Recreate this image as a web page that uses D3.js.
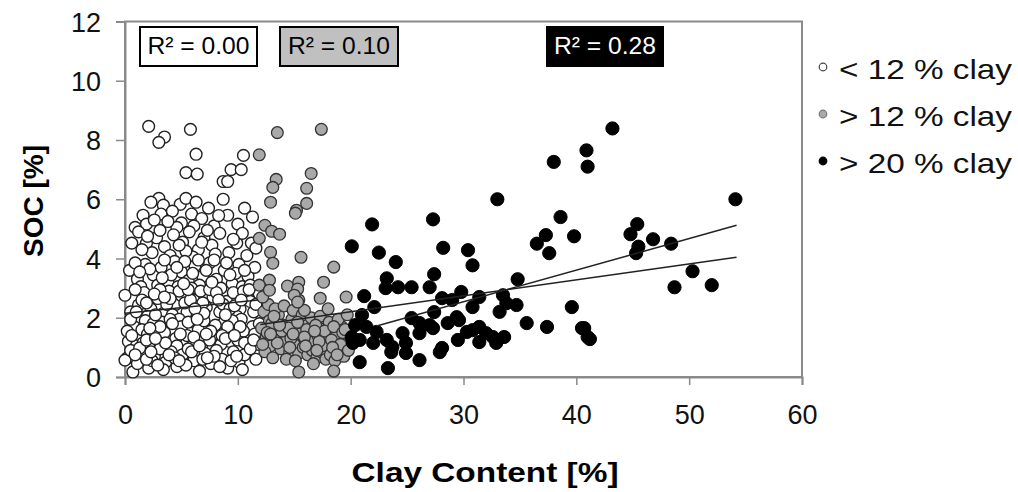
<!DOCTYPE html>
<html><head><meta charset="utf-8">
<script src="https://cdn.jsdelivr.net/npm/d3@7"></script>
<style>body{margin:0;background:#fff}svg{display:block}text{font-family:"Liberation Sans",Arial,sans-serif}</style>
</head><body>
<svg id="c" width="1018" height="492"></svg>
<script>
// ---- data ----
const xTicks = [0,10,20,30,40,50,60];
const yTicks = [0,2,4,6,8,10,12];
const seriesNames = ["< 12 % clay", "> 12 % clay", "> 20 % clay"];
const r2Labels = ["R\u00B2 = 0.00", "R\u00B2 = 0.10", "R\u00B2 = 0.28"];
const lowClay = [
[2.1,8.46],[3.5,8.1],[3.0,7.92],[5.8,8.36],[6.3,7.52],[10.5,7.48],[9.4,7.0],[10.3,7.0],[5.4,6.9],[6.4,6.85],[8.7,6.6],[9.1,6.6],[3.0,6.03],[3.4,5.8],[4.9,5.83],[5.4,6.03],[6.3,5.9],[8.7,6.0],
[1.6,5.46],[1.9,5.16],[3.2,5.5],[9.1,5.46],[10.0,5.16],[2.6,5.3],[4.2,5.6],[5.0,5.2],[5.9,5.5],[6.8,5.35],[7.4,5.7],[4.6,5.05],[7.9,5.1],[2.3,5.9],[6.1,5.1],[3.8,5.25],[8.3,5.45],[10.6,5.7],[0.9,5.05],[11.3,5.4],
[0.6,4.52],[1.9,4.52],[11.2,4.52],[9.9,4.52],[1.2,4.9],[2.8,4.7],[3.5,4.4],[4.3,4.8],[5.1,4.55],[5.7,4.9],[6.5,4.3],[7.0,4.7],[7.7,4.45],[8.4,4.85],[9.2,4.2],[10.4,4.85],[2.4,4.2],[4.0,4.1],[6.0,4.05],[8.0,4.15],[3.1,4.95],[1.5,4.3],[5.4,4.25],[7.3,4.95],[10.8,4.1],[9.6,4.65],[4.8,4.45],[6.8,4.55],[2.0,4.75],[11.6,4.35],
[0.4,3.6],[1.1,3.3],[1.8,3.8],[2.5,3.45],[3.2,3.7],[3.8,3.2],[4.4,3.9],[5.0,3.55],[5.6,3.25],[6.2,3.75],[6.9,3.4],[7.5,3.85],[8.1,3.3],[8.8,3.6],[9.5,3.15],[10.1,3.8],[10.9,3.4],[11.5,3.7],[1.4,3.05],[2.9,3.1],[4.7,3.05],[6.6,3.1],[8.5,3.0],[10.4,3.05],[3.5,3.95],[5.3,3.9],[7.2,3.6],[9.0,3.85],[2.2,3.65],[4.1,3.45],[6.0,3.5],[7.9,3.95],[9.8,3.5],[11.1,3.1],[0.9,3.85],[5.9,3.0],
[0,2.76],[1.2,2.43],[0.5,2.2],[1.7,2.85],[2.3,2.3],[2.9,2.65],[3.4,2.15],[3.9,2.9],[4.5,2.45],[5.0,2.75],[5.5,2.2],[6.1,2.6],[6.7,2.9],[7.2,2.35],[7.8,2.7],[8.4,2.2],[9.0,2.55],[9.6,2.85],[10.2,2.3],[10.8,2.65],[11.4,2.2],[11.9,2.8],[0.9,2.95],[2.0,2.05],[3.1,2.95],[4.2,2.1],[5.3,2.5],[6.4,2.05],[7.5,2.95],[8.7,2.45],[9.9,2.05],[11.1,2.55],[1.5,2.6],[2.6,2.8],[3.7,2.45],[4.8,2.9],[5.8,2.6],[6.9,2.5],[8.1,2.85],[9.3,2.3],[10.5,2.9],[11.6,2.45],
[0.3,1.2],[0.8,1.7],[1.3,1.35],[1.8,1.9],[2.3,1.1],[2.8,1.55],[3.3,1.85],[3.8,1.25],[4.3,1.6],[4.8,1.95],[5.3,1.15],[5.8,1.5],[6.3,1.8],[6.8,1.3],[7.3,1.65],[7.8,1.05],[8.3,1.45],[8.8,1.85],[9.3,1.2],[9.8,1.6],[10.3,1.95],[10.8,1.35],[11.3,1.7],[11.8,1.1],[0.5,1.95],[1.0,1.05],[1.5,1.6],[2.0,1.45],[2.5,1.8],[3.0,1.2],[3.5,1.5],[4.0,1.95],[4.5,1.3],[5.0,1.7],[5.5,1.4],[6.0,1.05],[6.5,1.6],[7.0,1.9],[7.5,1.25],[8.0,1.75],[8.5,1.1],[9.0,1.5],[9.5,1.9],[10.0,1.25],[10.5,1.55],[11.0,1.05],[11.5,1.45],[0.2,1.55],[1.6,1.15],[3.1,1.7],[4.6,1.05],[6.1,1.35],[7.6,1.55],[9.1,1.7],[10.6,1.15],[2.2,1.65],[5.6,1.85],[8.6,1.4],
[0.2,0.64],[0.7,0.17],[6.6,0.2],[0,0.57],[0.5,0.9],[1.1,0.45],[1.6,0.8],[2.1,0.3],[2.6,0.7],[3.1,0.95],[3.6,0.5],[4.1,0.85],[4.6,0.35],[5.1,0.75],[5.6,0.95],[6.1,0.55],[7.1,0.8],[7.6,0.45],[8.1,0.9],[8.6,0.6],[9.1,0.3],[9.6,0.85],[10.1,0.5],[10.6,0.75],[11.1,0.95],[11.6,0.6],[1.3,0.98],[2.4,0.55],[3.4,0.25],[4.4,0.65],[5.4,0.4],[6.9,0.6],[8.4,0.35],[9.4,0.55],[1.9,0.6],[3.9,0.75],[5.9,0.85],[7.9,0.7],[2.9,0.4],[10.4,0.25],
[1.0,2.2],[2.7,2.1],[4.0,2.65],[5.6,2.95],[7.0,2.15],[8.3,2.6],[9.7,2.4],[11.0,2.95],[1.9,2.5],[3.5,2.7],[6.2,2.3],[8.9,2.1],[10.3,2.6],[0.6,1.4],[1.9,1.25],[3.6,1.15],[4.9,1.45],[6.6,1.05],[7.2,1.45],[8.9,1.3],[10.2,1.7],[11.4,1.25],[2.7,1.3],[4.2,1.8],[6.4,1.95],[9.7,1.4],[11.9,1.8],[0.9,0.75],[2.3,0.85],[4.8,0.55],[7.3,0.65],[9.9,0.7],[3.3,3.35],[5.2,3.15],[7.7,3.2],[9.3,3.45],[1.3,3.55],[10.6,3.6],[4.6,3.7],[6.5,3.95]
];
const midClay = [
[12.3,2.2],[12.8,1.9],[13.2,1.6],[13.6,2.1],[14.0,1.75],[14.4,1.4],[14.8,1.95],[15.2,1.6],[15.6,1.25],[16.0,1.8],[16.4,1.45],[16.8,1.1],[17.2,1.65],[17.6,1.3],[18.0,0.95],[18.4,1.5],[18.8,1.15],[19.2,1.7],[19.6,1.35],[12.5,1.3],[12.9,1.05],[13.4,1.35],[13.8,0.95],[14.2,1.2],[14.6,0.85],[15.0,1.1],[15.4,0.8],[15.8,1.0],[16.2,0.75],[16.6,0.9],[17.0,0.65],[17.4,0.85],[17.8,0.6],[18.2,0.75],[18.6,0.55],[19.0,0.85],[19.4,0.7],[12.1,1.65],[12.7,2.45],[13.3,2.3],[14.1,2.4],[14.9,2.25],[15.7,2.1],[16.5,2.0],[17.3,2.05],[18.1,1.85],[18.9,1.95],[19.7,2.1],[13.0,1.8],[13.9,1.55],[14.7,1.3],[15.5,1.45],[16.3,1.2],[17.1,1.4],[17.9,1.2],[18.7,1.35],[19.5,1.05],[12.4,0.85],[13.1,0.65],[14.5,1.65],[15.3,1.85],[16.1,1.6],[16.9,1.75],[17.7,1.55],[18.5,1.7],[19.3,1.5],[12.6,1.5],[13.5,1.15],[14.3,0.6],[15.1,0.55],[15.9,1.35],[16.7,0.45],[17.5,1.05],[18.3,1.25],[19.1,1.1],[19.8,0.9],
[12.2,1.1],[13.7,1.75],[14.9,1.45],[16.0,1.05],[17.2,1.2],[18.4,1.0],[19.5,1.6],[13.2,2.05],[15.9,2.25],[18.0,2.3],[12.9,1.45],[14.6,1.0],[17.0,0.9],[18.8,0.75],[16.8,1.55],
[13.5,8.25],[17.4,8.36],[11.9,7.5],[13.4,6.67],[13.1,6.4],[16.5,6.87],[16.1,6.37],[12.9,5.9],[16.1,5.86],[15.2,5.63],[15.1,5.53],[12.4,5.12],[13.0,4.92],[13.7,4.82],[11.9,4.68],[12.9,4.21],[13.1,3.84],[15.6,4.04],[18.5,3.71],[12.8,3.27],[11.9,3.1],[14.4,3.07],[15.4,3.2],[15.3,2.97],[15.4,2.6],[15.0,2.76],[17.6,3.2],[17.3,2.66],[19.6,2.7],[12.2,2.7],[12.8,2.93],[15.3,2.53],[15.4,0.17],[18.5,0.2]
];
const highClay = [
[38.0,7.26],[40.9,7.65],[41.0,7.1],[33.0,6.0],[43.2,8.39],[54.1,6.0],
[45.4,5.16],[44.8,4.82],[46.8,4.65],[45.5,4.4],[45.3,4.18],[48.4,4.5],[50.3,3.57],[48.7,3.03],[52.0,3.1],[40.7,1.65],[41.2,1.28],
[21.9,5.15],[27.3,5.32],[20.1,4.41],[22.5,4.2],[24.0,3.88],[28.2,4.36],[30.4,4.28],[30.8,3.77],[38.6,5.4],[37.3,4.79],[36.5,4.5],[37.6,4.18],[39.8,4.75],
[23.2,3.33],[23.1,3.0],[24.2,3.03],[25.4,3.03],[27.0,3.03],[27.4,3.47],[21.2,2.73],[22.1,2.36],[28.1,2.66],[29.8,2.87],[29.0,2.6],[31.4,2.7],[30.8,2.36],[33.5,2.76],[34.8,3.3],[33.8,2.49],[34.7,2.43],[33.2,2.2],
[21.0,2.09],[20.4,1.75],[21.4,1.69],[22.3,1.52],[20.1,1.35],[20.8,1.25],[22.0,1.15],[23.2,1.25],[23.7,1.01],[24.9,1.15],[24.6,1.48],[25.4,1.99],[26.1,1.82],[26.1,1.48],[24.9,0.81],[23.6,0.84],[27.0,1.75],[27.4,2.19],[27.3,1.65],[28.6,1.82],[29.4,2.02],[28.1,0.98],[27.9,0.84],[26.1,0.57],[23.3,0.3],[20.8,0.5],
[29.5,1.25],[30.3,1.52],[30.8,1.58],[31.4,1.69],[32.0,1.48],[31.4,1.18],[32.6,1.35],[32.9,1.15],[33.6,1.35],[35.6,1.82],[37.4,1.69],[39.6,2.36],[40.5,1.65],[41.0,1.35],[29.6,1.92],[20.2,1.15]
];
// trend lines: [x1,y1,x2,y2]
const trendLow = [[0,2.15],[11.8,2.6]];
const trendMid = [[12,1.77],[54.2,4.04]];
const trendHigh = [[22.3,1.72],[54.2,5.12]];

// ---- chart ----
const svg = d3.select("#c");
const x = d3.scaleLinear().domain([0,60]).range([125,802]);
const y = d3.scaleLinear().domain([0,12]).range([377,21.5]);
const axisCol = "#8a8a8a";

// frame
svg.append("rect").attr("x",125).attr("y",21.5).attr("width",677).attr("height",355.5)
  .attr("fill","none").attr("stroke",axisCol).attr("stroke-width",2);

const xa = svg.append("g").attr("transform","translate(0,377)")
  .call(d3.axisBottom(x).tickValues(xTicks).tickSize(8).tickFormat(d3.format("d")));
const ya = svg.append("g").attr("transform","translate(125,0)")
  .call(d3.axisLeft(y).tickValues(yTicks).tickSize(9).tickFormat(d3.format("d")));
[xa,ya].forEach(a=>{
  a.select(".domain").attr("stroke",axisCol).attr("stroke-width",2);
  a.selectAll(".tick line").attr("stroke",axisCol).attr("stroke-width",1.5);
  a.selectAll("text").attr("font-size",27).attr("fill","#111").attr("font-family","Liberation Sans, Arial");
});
xa.selectAll("text").attr("y",null).attr("dy",null).attr("transform","translate(0,47)");
ya.selectAll("text").attr("x",-24).attr("dy","0.36em");

// axis titles
svg.append("text").attr("x",485).attr("y",482).attr("text-anchor","middle")
  .attr("font-size",28).attr("font-weight","bold").attr("textLength",267).attr("lengthAdjust","spacingAndGlyphs")
  .text("Clay Content [%]");
svg.append("text").attr("transform","translate(43,201) rotate(-90)").attr("text-anchor","middle")
  .attr("font-size",28).attr("font-weight","bold").text("SOC [%]");

// points
const styles = [
  {data: lowClay, fill:"#fff", stroke:"#222", r:5.9, sw:1.4},
  {data: midClay, fill:"#a9a9a9", stroke:"#333", r:5.9, sw:1.3},
  {data: highClay, fill:"#000", stroke:"#000", r:6.6, sw:1}
];
styles.forEach(s=>{
  svg.append("g").selectAll("circle").data(s.data).join("circle")
    .attr("cx",d=>x(d[0])).attr("cy",d=>y(d[1])).attr("r",s.r)
    .attr("fill",s.fill).attr("stroke",s.stroke).attr("stroke-width",s.sw);
});

// trend lines
const line = d3.line().x(d=>x(d[0])).y(d=>y(d[1]));
[trendLow,trendMid,trendHigh].forEach(t=>{
  svg.append("path").attr("d",line(t)).attr("fill","none").attr("stroke","#222").attr("stroke-width",1.5);
});

// R2 boxes
const boxes = [
  {x:140,w:117,fill:"#fff",tc:"#000",stroke:"#000"},
  {x:280,w:118,fill:"#c0c0c0",tc:"#000",stroke:"#000"},
  {x:547,w:116,fill:"#000",tc:"#fff",stroke:"#000"}
];
boxes.forEach((b,i)=>{
  svg.append("rect").attr("x",b.x).attr("y",27).attr("width",b.w).attr("height",39)
    .attr("fill",b.fill).attr("stroke",b.stroke).attr("stroke-width",2);
  svg.append("text").attr("x",b.x+b.w/2).attr("y",54).attr("text-anchor","middle")
    .attr("font-size",24).attr("fill",b.tc).attr("textLength",102).attr("lengthAdjust","spacingAndGlyphs")
    .text(r2Labels[i]);
});

// legend
const legY = [79,126,173];
const legFill = ["#fff","#a9a9a9","#000"];
const legStroke = ["#444","#777","#000"];
seriesNames.forEach((n,i)=>{
  svg.append("circle").attr("cx",823).attr("cy",legY[i]-12).attr("r",3.8)
    .attr("fill",legFill[i]).attr("stroke",legStroke[i]).attr("stroke-width",1.2);
  svg.append("text").attr("x",839).attr("y",legY[i]).attr("font-size",28)
    .attr("textLength",173).attr("lengthAdjust","spacingAndGlyphs").attr("fill","#111").text(n);
});
</script>
</body></html>
